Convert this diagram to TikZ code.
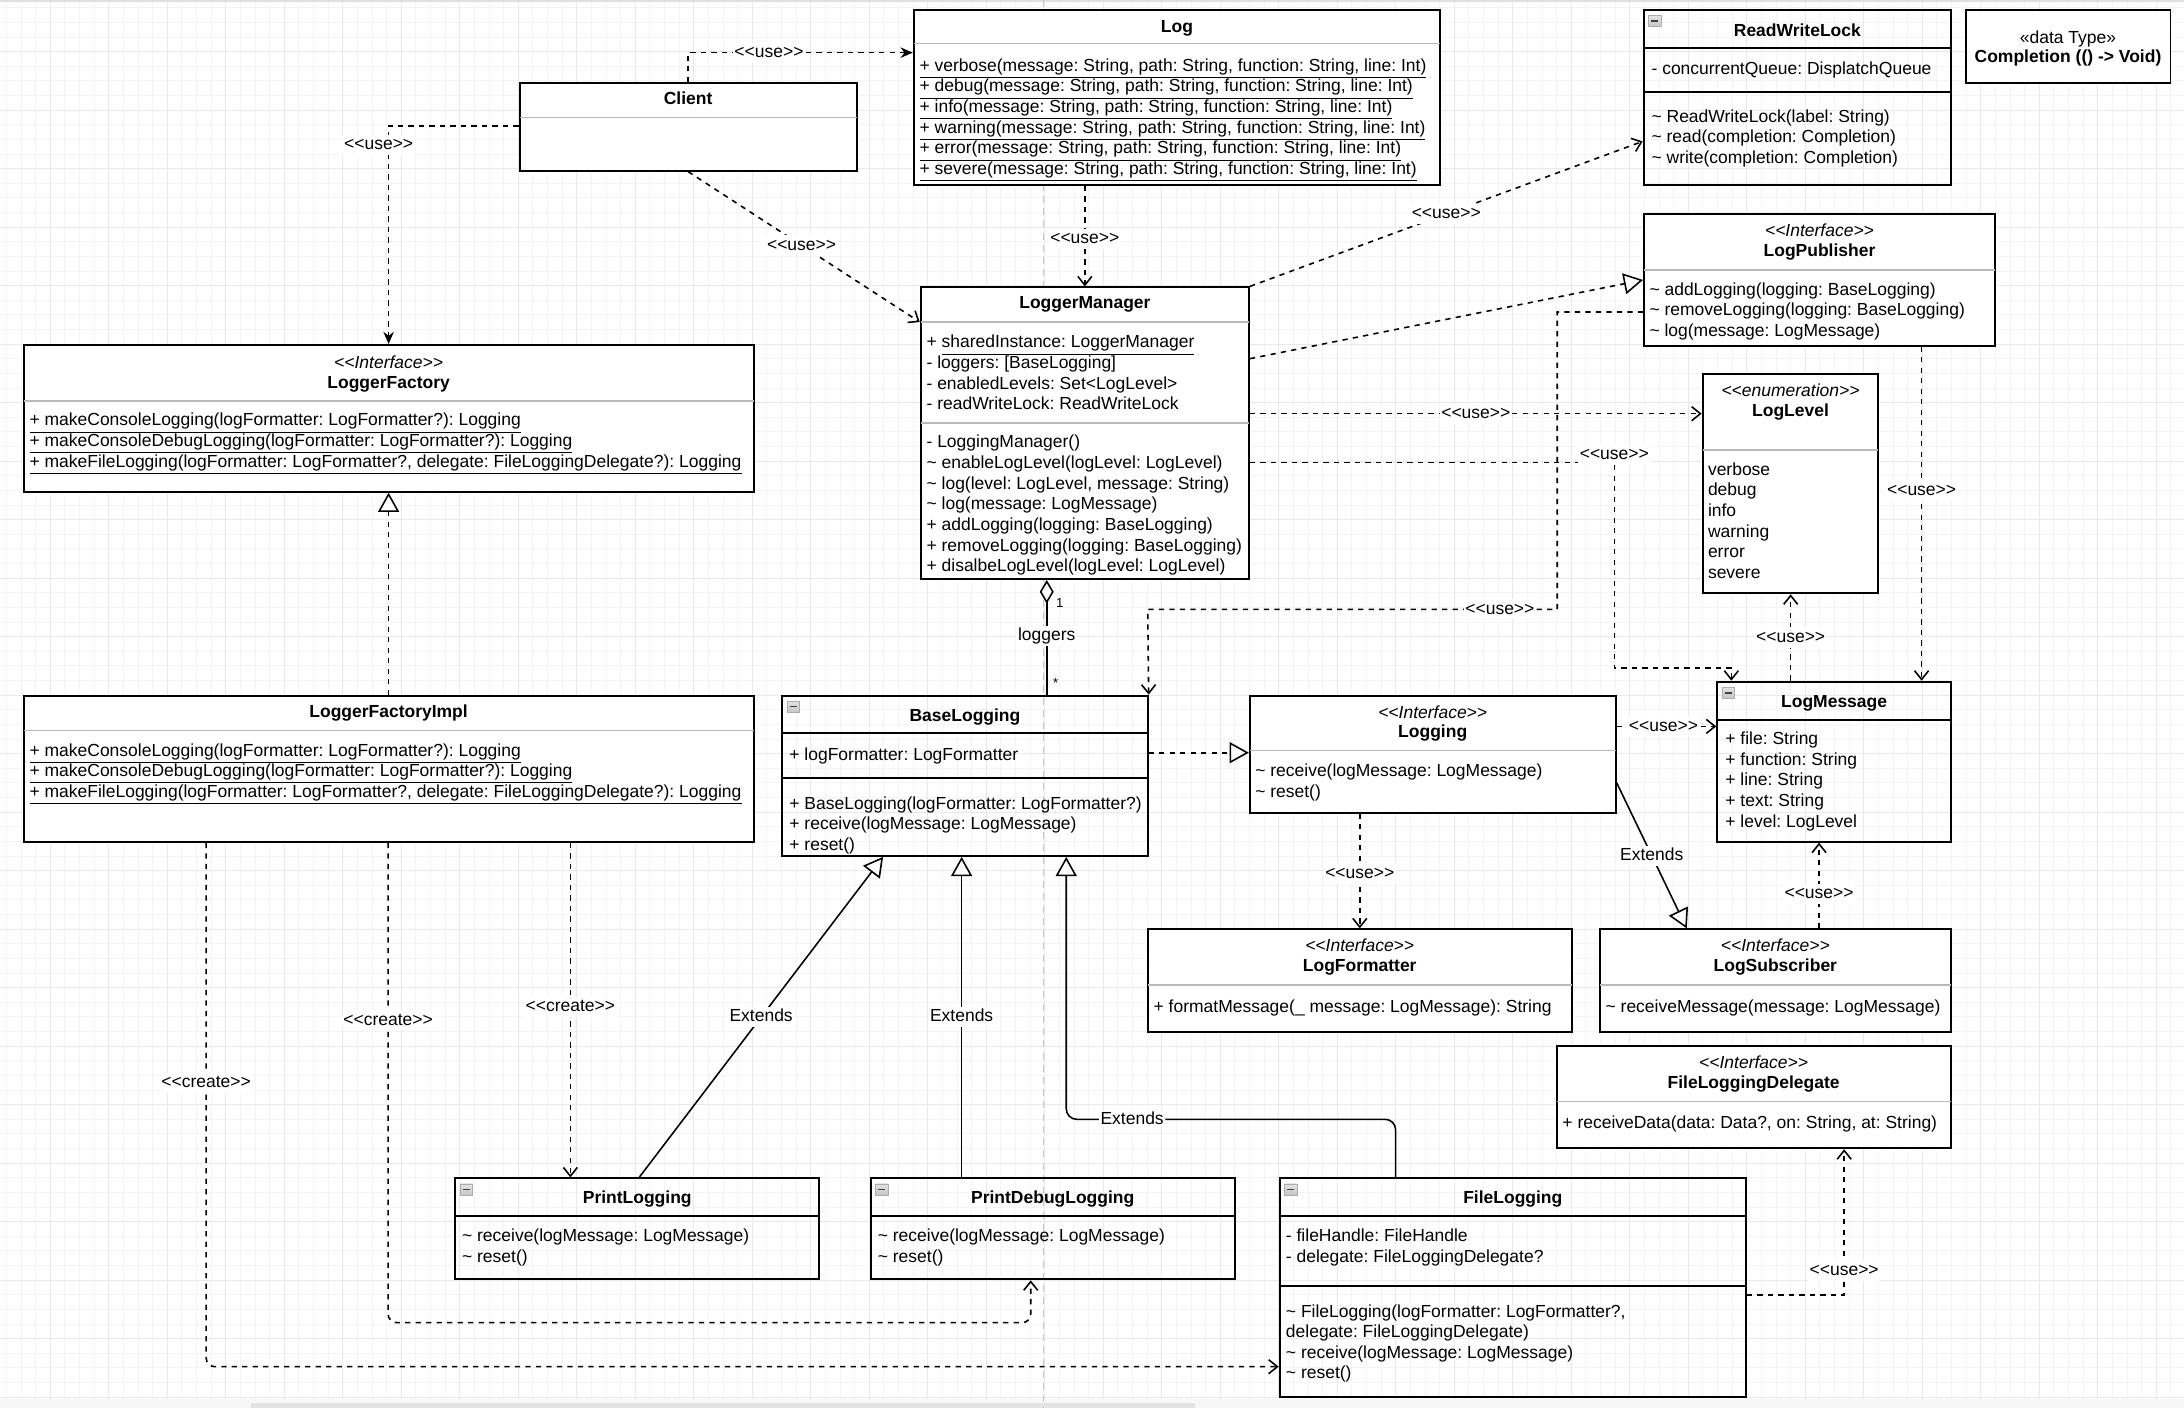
\documentclass[tikz,border=0pt]{standalone}
\usepackage{fontspec}
\setmainfont{Liberation Sans}
\usetikzlibrary{positioning}
\usetikzlibrary{arrows.meta}
\usetikzlibrary{fit}
\frenchspacing
\newcommand{\stereo}[1]{<\kern0pt<#1>\kern0pt>}
\newcommand{\umlfont}{\fontsize{10}{11.8}\selectfont}
\newcommand{\vpkg}{\textasciitilde}
\newcommand{\minusicon}[1]{\draw[iconbox] #1 ++(3.5,4) rectangle ++(9,8); \draw[iconbar] #1 ++(5.5,8) -- ++(5,0);}

\tikzset{
  gridminor/.style={draw=gray!9, line width=0.4pt},
  gridmajor/.style={draw=gray!17, line width=0.4pt},
  pagebreak/.style={draw=gray!45, line width=0.6pt, dash pattern=on 4pt off 3pt},
  umlbox/.style={draw=black, line width=1.1pt, fill=white, inner sep=0pt},
  swimbox/.style={draw=black, line width=1.1pt, inner sep=0pt},
  greysep/.style={draw=gray!55, line width=0.9pt},
  blacksep/.style={draw=black, line width=1.1pt},
  iconbox/.style={draw=gray!65, line width=0.4pt, top color=gray!10, bottom color=gray!45},
  iconbar/.style={draw=black!75, line width=0.8pt},
  classname/.style={font=\umlfont\bfseries, inner sep=0pt, text height=8pt, text depth=1pt},
  plaintext/.style={font=\umlfont, inner sep=0pt, text height=8pt, text depth=1pt},
  stereotype/.style={font=\umlfont\itshape, inner sep=0pt, text height=8pt, text depth=1pt},
  members/.style={anchor=north west, inner sep=0pt, align=left, yshift=4.4pt,
    execute at begin node={\rule{0pt}{8pt}}},
  dep/.style={line width=0.9pt, dash pattern=on 3pt off 3pt, -{Straight Barb[length=5pt,width=8pt]}},
  depfill/.style={line width=0.9pt, dash pattern=on 3pt off 3pt, -{Stealth[length=7pt,width=6pt]}},
  realize/.style={line width=0.9pt, dash pattern=on 3pt off 3pt, -{Triangle[length=11pt,width=12pt,fill=white]}},
  extends/.style={line width=0.9pt, -{Triangle[length=11pt,width=12pt,fill=white]}},
  aggr/.style={line width=0.9pt, {Diamond[length=13.5pt,width=8pt,fill=white]}-},
  lbl/.style={fill=white, inner sep=1pt, text height=7.5pt, text depth=2pt},
  mult/.style={font=\fontsize{7.5}{9}\selectfont, inner sep=0pt}
}

\begin{document}
\begin{tikzpicture}[x=0.028cm, y=-0.028cm, font=\umlfont]
    \useasboundingbox (0,0) rectangle (1568,1011);
    \fill[white] (0,0) rectangle (1568,1011);
    \foreach \i in {0,...,150} \draw[gridminor] (-6+10.5*\i,0) -- (-6+10.5*\i,1011);
    \foreach \j in {0,...,97} \draw[gridminor] (0,-5+10.5*\j) -- (1568,-5+10.5*\j);
    \foreach \i in {0,...,37} \draw[gridmajor] (-6+42*\i,0) -- (-6+42*\i,1011);
    \foreach \j in {0,...,24} \draw[gridmajor] (0,-5+42*\j) -- (1568,-5+42*\j);
    \fill[gray!25] (0,0) rectangle (1568,1.5);
    \fill[gray!6] (0,1004.5) rectangle (1568,1011);
    \fill[gray!22] (180,1007.5) rectangle (858,1011);
    \draw[pagebreak] (749,0) -- (749,1011);

    \node[umlbox, fit={(373,59.4) (615,122.5)}] (Client) {};
    \draw[greysep] (373,84.2) -- (615,84.2);
    \node[classname] (ClientT) at (494,70.6) {Client};

    \node[umlbox, fit={(656,7.2) (1034,132.8)}] (Log) {};
    \draw[greysep] (656,31.1) -- (1034,31.1);
    \node[classname] (LogT) at (845,18.7) {Log};
    \node[members] (LogM) at (660,47.4) {\underline{+ verbose(message: String, path: String, function: String, line: Int)}\\
        \underline{+ debug(message: String, path: String, function: String, line: Int)}\\
        \underline{+ info(message: String, path: String, function: String, line: Int)}\\
        \underline{+ warning(message: String, path: String, function: String, line: Int)}\\
        \underline{+ error(message: String, path: String, function: String, line: Int)}\\
        \underline{+ severe(message: String, path: String, function: String, line: Int)}};

    \node[swimbox, fit={(1180,7.2) (1400.8,132.8)}] (ReadWriteLock) {};
    \draw[blacksep] (1180,34.2) -- (1400.8,34.2);
    \draw[blacksep] (1180,65.8) -- (1400.8,65.8);
    \minusicon{(1180,7.2)}
    \node[classname] (ReadWriteLockT) at (1290.4,21.5) {ReadWriteLock};
    \node[members] (ReadWriteLockA) at (1185.5,48.5) {- concurrentQueue: DisplatchQueue};
    \node[members] (ReadWriteLockM) at (1185.5,84) {\vpkg{} ReadWriteLock(label: String)\\
        \vpkg{} read(completion: Completion)\\\vpkg{} write(completion: Completion)};

    \node[umlbox, fit={(1411.2,7.2) (1558.3,59.4)}] (Completion) {};
    \node[plaintext] (CompletionS) at (1484.7,26.8) {«data Type»};
    \node[classname] (CompletionT) at (1484.7,40.7) {Completion (() -> Void)};

    \node[umlbox, fit={(1180.3,153.6) (1432.3,248.2)}] (LogPublisher) {};
    \draw[greysep] (1180.3,193.8) -- (1432.3,193.8);
    \node[stereotype] (LogPublisherS) at (1306.3,165.1) {\stereo{Interface}};
    \node[classname] (LogPublisherT) at (1306.3,180) {LogPublisher};
    \node[members] (LogPublisherM) at (1184,208.2) {\vpkg{} addLogging(logging: BaseLogging)\\
        \vpkg{} removeLogging(logging: BaseLogging)\\\vpkg{} log(message: LogMessage)};

    \node[umlbox, fit={(661,206.3) (896.7,415.7)}] (LoggerManager) {};
    \draw[greysep] (661,231.2) -- (896.7,231.2);
    \draw[greysep] (661,303.5) -- (896.7,303.5);
    \node[classname] (LoggerManagerT) at (778.9,217.3) {LoggerManager};
    \node[members] (LoggerManagerA) at (665,246) {+ \underline{sharedInstance: LoggerManager}\\
        - loggers: [BaseLogging]\\- enabledLevels: Set<LogLevel>\\- readWriteLock: ReadWriteLock};
    \node[members] (LoggerManagerM) at (665,317.8) {- LoggingManager()\\
        \vpkg{} enableLogLevel(logLevel: LogLevel)\\
        \vpkg{} log(level: LogLevel, message: String)\\
        \vpkg{} log(message: LogMessage)\\
        + addLogging(logging: BaseLogging)\\
        + removeLogging(logging: BaseLogging)\\
        + disalbeLogLevel(logLevel: LogLevel)};

    \node[umlbox, fit={(1222.4,268.7) (1348.5,426)}] (LogLevel) {};
    \draw[greysep] (1222.4,323) -- (1348.5,323);
    \node[stereotype] (LogLevelS) at (1285.5,280.5) {\stereo{enumeration}};
    \node[classname] (LogLevelT) at (1285.5,294.8) {LogLevel};
    \node[members] (LogLevelM) at (1226,337.4) {verbose\\debug\\info\\warning\\error\\severe};

    \node[umlbox, fit={(17,247.7) (541,353)}] (LoggerFactory) {};
    \draw[greysep] (17,287.7) -- (541,287.7);
    \node[stereotype] (LoggerFactoryS) at (279,260) {\stereo{Interface}};
    \node[classname] (LoggerFactoryT) at (279,274.5) {LoggerFactory};
    \node[members] (LoggerFactoryM) at (21,302) {\underline{+ makeConsoleLogging(logFormatter: LogFormatter?): Logging}\\
        \underline{+ makeConsoleDebugLogging(logFormatter: LogFormatter?): Logging}\\
        \underline{+ makeFileLogging(logFormatter: LogFormatter?, delegate: FileLoggingDelegate?): Logging}};

    \node[umlbox, fit={(17,499.5) (541,604.5)}] (LoggerFactoryImpl) {};
    \draw[greysep] (17,524.6) -- (541,524.6);
    \node[classname] (LoggerFactoryImplT) at (279,511) {LoggerFactoryImpl};
    \node[members] (LoggerFactoryImplM) at (21,539) {\underline{+ makeConsoleLogging(logFormatter: LogFormatter?): Logging}\\
        \underline{+ makeConsoleDebugLogging(logFormatter: LogFormatter?): Logging}\\
        \underline{+ makeFileLogging(logFormatter: LogFormatter?, delegate: FileLoggingDelegate?): Logging}};

    \node[swimbox, fit={(561.6,499.4) (824,614.5)}] (BaseLogging) {};
    \draw[blacksep] (561.6,526.5) -- (824,526.5);
    \draw[blacksep] (561.6,558.3) -- (824,558.3);
    \minusicon{(561.6,499.4)}
    \node[classname] (BaseLoggingT) at (692.8,513.3) {BaseLogging};
    \node[members] (BaseLoggingA) at (566.5,541.3) {+ logFormatter: LogFormatter};
    \node[members] (BaseLoggingM) at (566.5,577.2) {+ BaseLogging(logFormatter: LogFormatter?)\\
        + receive(logMessage: LogMessage)\\+ reset()};

    \node[umlbox, fit={(897.3,499.4) (1160,583.4)}] (Logging) {};
    \draw[greysep] (897.3,538.9) -- (1160,538.9);
    \node[stereotype] (LoggingS) at (1028.6,511.4) {\stereo{Interface}};
    \node[classname] (LoggingT) at (1028.6,525.3) {Logging};
    \node[members] (LoggingM) at (901,554) {\vpkg{} receive(logMessage: LogMessage)\\\vpkg{} reset()};

    \node[swimbox, fit={(1232.9,489.4) (1400.7,604.3)}] (LogMessage) {};
    \draw[blacksep] (1232.9,516.9) -- (1400.7,516.9);
    \minusicon{(1232.9,489.4)}
    \node[classname] (LogMessageT) at (1316.8,503.8) {LogMessage};
    \node[members] (LogMessageA) at (1238.5,530.8) {+ file: String\\+ function: String\\+ line: String\\
        + text: String\\+ level: LogLevel};

    \node[umlbox, fit={(824,667.2) (1128.5,740.7)}] (LogFormatter) {};
    \draw[greysep] (824,707.2) -- (1128.5,707.2);
    \node[stereotype] (LogFormatterS) at (976.2,678.9) {\stereo{Interface}};
    \node[classname] (LogFormatterT) at (976.2,693.3) {LogFormatter};
    \node[members] (LogFormatterM) at (828,721.8) {+ formatMessage(\_ message: LogMessage): String};

    \node[umlbox, fit={(1148.9,667.2) (1400.4,740.7)}] (LogSubscriber) {};
    \draw[greysep] (1148.9,707.2) -- (1400.4,707.2);
    \node[stereotype] (LogSubscriberS) at (1274.6,678.9) {\stereo{Interface}};
    \node[classname] (LogSubscriberT) at (1274.6,693.3) {LogSubscriber};
    \node[members] (LogSubscriberM) at (1152.5,721.8) {\vpkg{} receiveMessage(message: LogMessage)};

    \node[umlbox, fit={(1117.7,751) (1400.4,824.4)}] (FileLoggingDelegate) {};
    \draw[greysep] (1117.7,790.9) -- (1400.4,790.9);
    \node[stereotype] (FileLoggingDelegateS) at (1259,762.7) {\stereo{Interface}};
    \node[classname] (FileLoggingDelegateT) at (1259,777) {FileLoggingDelegate};
    \node[members] (FileLoggingDelegateM) at (1121.5,805.3) {+ receiveData(data: Data?, on: String, at: String)};

    \node[swimbox, fit={(326.9,846) (588,918.5)}] (PrintLogging) {};
    \draw[blacksep] (326.9,873) -- (588,873);
    \minusicon{(326.9,846)}
    \node[classname] (PrintLoggingT) at (457.5,859.9) {PrintLogging};
    \node[members] (PrintLoggingM) at (331.5,887.8) {\vpkg{} receive(logMessage: LogMessage)\\\vpkg{} reset()};

    \node[swimbox, fit={(625.2,846) (886.4,918.5)}] (PrintDebugLogging) {};
    \draw[blacksep] (625.2,873) -- (886.4,873);
    \minusicon{(625.2,846)}
    \node[classname] (PrintDebugLoggingT) at (755.8,859.9) {PrintDebugLogging};
    \node[members] (PrintDebugLoggingM) at (630,887.8) {\vpkg{} receive(logMessage: LogMessage)\\\vpkg{} reset()};

    \node[swimbox, fit={(918.7,846) (1253.5,1002.7)}] (FileLogging) {};
    \draw[blacksep] (918.7,873) -- (1253.5,873);
    \draw[blacksep] (918.7,923.3) -- (1253.5,923.3);
    \minusicon{(918.7,846)}
    \node[classname] (FileLoggingT) at (1086.1,859.9) {FileLogging};
    \node[members] (FileLoggingA) at (923,887.8) {- fileHandle: FileHandle\\- delegate: FileLoggingDelegate?};
    \node[members] (FileLoggingM) at (923,941.7) {\vpkg{} FileLogging(logFormatter: LogFormatter?,\\
        delegate: FileLoggingDelegate)\\\vpkg{} receive(logMessage: LogMessage)\\\vpkg{} reset()};

    \draw[depfill] (Client.north) |- node[lbl, pos=0.68] {\stereo{use}} (Log.west |- 0,37.8);
    \draw[depfill] (Client.west |- 0,90.5) -| node[lbl, pos=0.543, xshift=-2mm] {\stereo{use}} (LoggerFactory.north);
    \draw[dep] (Client.south) -- node[lbl, pos=0.49] {\stereo{use}} (LoggerManager.west |- 0,231.2);
    \draw[dep] (Log.south -| LoggerManager.north) -- node[lbl, pos=0.53] {\stereo{use}} (LoggerManager.north);
    \draw[dep] (LoggerManager.north east) -- node[lbl] {\stereo{use}} (ReadWriteLock.west |- 0,101.5);
    \draw[realize] (LoggerManager.east |- 0,257.5) -- (LogPublisher.west |- 0,201);
    \draw[dep] (LoggerManager.east |- 0,297) -- node[lbl] {\stereo{use}} (LogLevel.west |- 0,297);
    \draw[dep] (LoggerManager.east |- 0,332) -- node[lbl, pos=1, yshift=1.5mm] {\stereo{use}} (1159,332)
        -- (1159,479.5) -- (1243,479.5) -- (LogMessage.north -| 1243,0);
    \draw[dep] (LogPublisher.west |- 0,224) -- (1118,224) |- node[lbl, pos=0.57] {\stereo{use}} (824,437.5)
        -- (BaseLogging.north east);
    \draw[dep] (LogPublisher.south -| 1379.6,0) -- node[lbl, pos=0.43] {\stereo{use}} (LogMessage.north -| 1379.6,0);
    \draw[dep] (LogMessage.north -| 1285.6,0) -- node[lbl] {\stereo{use}} (LogLevel.south -| 1285.6,0);
    \draw[aggr] (LoggerManager.south -| 751.5,0) -- node[lbl, pos=0.49] {loggers}
        node[mult, pos=0.2, xshift=2.6mm] {1} node[mult, pos=0.9, xshift=1.8mm] {*} (BaseLogging.north -| 751.5,0);
    \draw[realize] (BaseLogging.east |- 0,540.4) -- (Logging.west |- 0,540.4);
    \draw[dep] (Logging.east |- 0,521.5) -- node[lbl, pos=0.47] {\stereo{use}} (LogMessage.west |- 0,521.5);
    \draw[dep] (Logging.south -| LogFormatter.north) -- node[lbl, pos=0.52] {\stereo{use}} (LogFormatter.north);
    \draw[extends] (Logging.east |- 0,562) -- node[lbl] {Extends} (LogSubscriber.north -| 1211,0);
    \draw[dep] (LogSubscriber.north -| 1306,0) -- node[lbl, pos=0.4] {\stereo{use}} (LogMessage.south -| 1306,0);
    \draw[extends] (PrintLogging.north -| 458.9,0) -- node[lbl] {Extends} (BaseLogging.south -| 634,0);
    \draw[extends] (PrintDebugLogging.north -| 690.4,0) -- node[lbl] {Extends} (BaseLogging.south -| 690.4,0);
    \draw[extends, rounded corners=6pt] (FileLogging.north -| 1002,0) |- node[lbl, pos=0.9] {Extends} (765.5,803.6)
        -- (BaseLogging.south -| 765.5,0);
    \draw[realize] (LoggerFactoryImpl.north) -- (LoggerFactory.south);
    \draw[dep] (LoggerFactoryImpl.south -| 409.5,0) -- node[lbl, pos=0.49] {\stereo{create}} (PrintLogging.north -| 409.5,0);
    \draw[dep, rounded corners=5pt] (LoggerFactoryImpl.south -| 278.6,0) -- node[lbl, pos=0.37] {\stereo{create}} (278.6,949.6)
        -| (PrintDebugLogging.south -| 740,0);
    \draw[dep, rounded corners=5pt] (LoggerFactoryImpl.south -| 148,0) |- node[lbl, pos=0.229] {\stereo{create}} (FileLogging.west |- 0,981.2);
    \draw[dep] (FileLogging.east |- 0,929.7) -| node[lbl, pos=0.584] {\stereo{use}} (FileLoggingDelegate.south -| 1324,0);
\end{tikzpicture}
\end{document}
